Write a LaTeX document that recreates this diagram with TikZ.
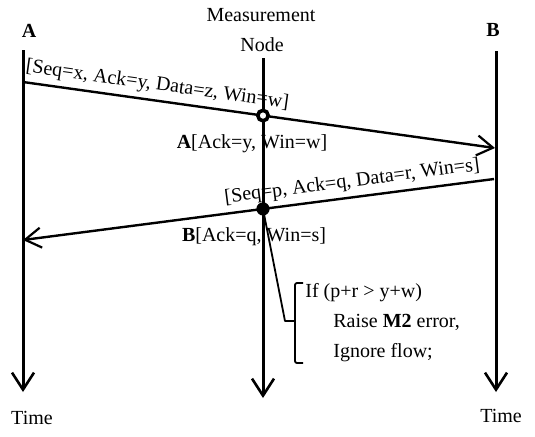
\documentclass[tikz,border=0pt]{standalone}
\usepackage{fontspec}
\setmainfont{Liberation Serif}
\usetikzlibrary{arrows.meta,positioning,calc}
\tikzset{
  lifeline/.style={line width=1.5pt, -{Straight Barb[length=8.5pt,width=11pt,line width=1.3pt]}},
  msgfwd/.style={line width=1.2pt, -{Straight Barb[length=8pt,width=10pt,line width=1.1pt]}},
  msgback/.style={line width=1.2pt, {Straight Barb[length=8pt,width=10pt,line width=1.1pt]}-},
  pktlabel/.style={sloped, above=2.5pt, inner sep=0pt},
  note/.style={inner sep=0pt},
  leader/.style={line width=0.9pt, line join=round}
}

\begin{document}
\begin{tikzpicture}[x=0.5pt,y=-0.5pt]
    \useasboundingbox (0,0) rectangle (535,436);

    % time lines
    \coordinate (Atop) at (23,50);
    \coordinate (Abot) at (23,392);
    \coordinate (Mtop) at (263,58);
    \coordinate (Mbot) at (263,398);
    \coordinate (Btop) at (496,51);
    \coordinate (Bbot) at (496,392);

    \node[font=\bfseries] (A) at (29,31) {A};
    \node[font=\bfseries] (B) at (493,30) {B};
    \node (meas) at (261,15) {Measurement};
    \node (mnode) at (262,45) {Node};
    \node (timeA) at (32,418) {Time};
    \node (timeB) at (501,416) {Time};

    \draw[lifeline] (Atop) -- (Abot);
    \draw[lifeline] (Mtop) -- (Mbot);
    \draw[lifeline] (Btop) -- (Bbot);

    % A -> B
    \coordinate (s1) at (23,82);
    \coordinate (e1) at (495,148);
    \draw[msgfwd] (s1) -- (e1)
        node[pktlabel, pos=0.28] {[Seq=x, Ack=y, Data=z, Win=w]};
    \coordinate (m1) at (intersection of s1--e1 and Mtop--Mbot);
    \node (ack1) at (252,144) {\textbf{A}[Ack=y, Win=w]};

    % B -> A
    \coordinate (s2) at (494,179);
    \coordinate (e2) at (23,240);
    \draw[msgback] (e2) -- (s2)
        node[pktlabel, pos=0.703] {[Seq=p, Ack=q, Data=r, Win=s]};
    \coordinate (m2) at (intersection of s2--e2 and Mtop--Mbot);
    \node (ack2) at (254,237) {\textbf{B}[Ack=q, Win=s]};

    \filldraw[line width=1.8pt, fill=white] (m1) circle (2.6pt);
    \fill (m2) circle (3.3pt);

    % check at the measurement node
    \node[note, anchor=north west, align=left, font=\fontsize{10}{15}\selectfont] (cond) at (305,283)
        {If (p+r > y+w)\\\hspace*{14pt}Raise \textbf{M2} error,\\\hspace*{14pt}Ignore flow;};
    \coordinate (tick) at (285,321);
    \coordinate (brmid) at (295,321);
    \coordinate (brtop) at (295,283);
    \coordinate (brbot) at (295,363);
    \draw[leader] (m2) -- (tick) -- (brmid);
    \draw[leader, rounded corners=1pt] ($(brtop)+(8,0)$) -- (brtop) -- (brbot) -- ($(brbot)+(8,0)$);
\end{tikzpicture}
\end{document}
